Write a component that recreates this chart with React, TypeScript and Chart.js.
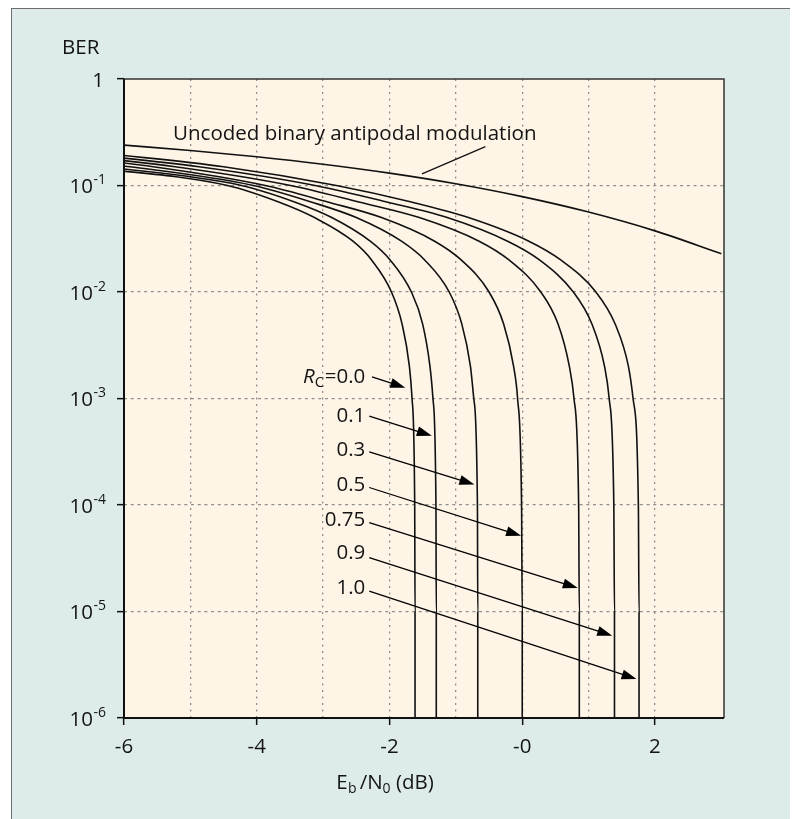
import React, { useEffect, useRef } from 'react';
import { Chart, registerables } from 'chart.js';

Chart.register(...registerables);

const FONT = '"Open Sans", "Noto Sans", sans-serif';
const TEXT = '#141414';
const PLOT_BG = '#fef5e7';
const OUTER_BG = '#ddecea';
const GRID = '#8f8f8f';
const FS = 20.5;
const FS_SMALL = 14;

// Uncoded binary antipodal modulation
const uncodedEbN0 = [-6, -5, -4, -3, -2, -1, 0, 1, 2, 3];
const uncodedBer = [0.2392, 0.2132, 0.1861, 0.1584, 0.1306, 0.1038, 0.0786, 0.0563, 0.0375, 0.0229];

// Coded bounds: Eb/N0 (dB) at which each curve reaches the BER level
const berLevels = [0.2, 0.15, 0.1, 0.07, 0.05, 0.03, 0.02, 0.01, 0.005, 0.002, 0.001, 1e-4, 1e-5, 1e-6, 1e-7];
const ebn0Rc000 = [-8.45, -6.66, -4.44, -3.67, -3.13, -2.55, -2.27, -1.97, -1.81, -1.70, -1.66, -1.62, -1.615, -1.615, -1.615];
const ebn0Rc010 = [-8.09, -6.30, -4.23, -3.43, -2.87, -2.29, -1.99, -1.67, -1.50, -1.39, -1.345, -1.30, -1.295, -1.295, -1.295];
const ebn0Rc030 = [-7.70, -5.91, -4.05, -3.18, -2.50, -1.82, -1.47, -1.10, -0.91, -0.78, -0.73, -0.675, -0.67, -0.67, -0.67];
const ebn0Rc050 = [-7.35, -5.56, -3.87, -2.93, -2.12, -1.32, -0.92, -0.50, -0.28, -0.13, -0.07, -0.01, 0.0, 0.0, 0.0];
const ebn0Rc075 = [-7.02, -5.23, -3.49, -2.46, -1.55, -0.65, -0.20, 0.28, 0.54, 0.71, 0.78, 0.85, 0.86, 0.86, 0.86];
const ebn0Rc090 = [-6.66, -4.87, -3.12, -2.04, -1.13, -0.22, 0.26, 0.77, 1.05, 1.24, 1.31, 1.38, 1.39, 1.39, 1.39];
const ebn0Rc100 = [-6.29, -4.50, -2.80, -1.67, -0.81, 0.10, 0.58, 1.11, 1.40, 1.60, 1.67, 1.75, 1.76, 1.76, 1.76];
const codedCurves = [ebn0Rc000, ebn0Rc010, ebn0Rc030, ebn0Rc050, ebn0Rc075, ebn0Rc090, ebn0Rc100];

// Axes
const xTickValues = [-6, -5, -4, -3, -2, -1, 0, 1, 2, 3];
const xTickLabels = ['-6', '', '-4', '', '-2', '', '-0', '', '2', ''];
const yTickValues = [1, 1e-1, 1e-2, 1e-3, 1e-4, 1e-5, 1e-6];
const yTickExponents = ['', '-1', '-2', '-3', '-4', '-5', '-6'];

// Annotations (data coordinates)
const uncodedLabel = 'Uncoded binary antipodal modulation';
const uncodedLabelPos = [-2.523, 0.266];
const uncodedLeader = [-0.555, 0.232, -1.51, 0.1285];

const rateLabels = ['0.0', '0.1', '0.3', '0.5', '0.75', '0.9', '1.0'];
const rateLabelX = -2.365;
const rateLabelBer = [1.41e-3, 5.96e-4, 2.9e-4, 1.355e-4, 6.37e-5, 3.1e-5, 1.47e-5];
const arrowFromX = [-2.264, -2.305, -2.305, -2.305, -2.305, -2.305, -2.305];
const arrowFromBer = [1.6e-3, 6.84e-4, 3.16e-4, 1.46e-4, 6.84e-5, 3.21e-5, 1.55e-5];
const arrowToX = [-1.762, -1.362, -0.721, -0.017, 0.837, 1.356, 1.722];
const arrowToBer = [1.26e-3, 4.47e-4, 1.56e-4, 5.13e-5, 1.66e-5, 5.93e-6, 2.32e-6];

function drawArrow(ctx: CanvasRenderingContext2D, x1: number, y1: number, x2: number, y2: number) {
  const ang = Math.atan2(y2 - y1, x2 - x1);
  const L = 15;
  const W = 5;
  const bx = x2 - L * Math.cos(ang);
  const by = y2 - L * Math.sin(ang);
  ctx.beginPath();
  ctx.moveTo(x1, y1);
  ctx.lineTo(bx + 1, by + 0.3);
  ctx.stroke();
  ctx.beginPath();
  ctx.moveTo(x2, y2);
  ctx.lineTo(bx + W * Math.sin(ang), by - W * Math.cos(ang));
  ctx.lineTo(bx - W * Math.sin(ang), by + W * Math.cos(ang));
  ctx.closePath();
  ctx.fill();
}

const decorPlugin = {
  id: 'berDecor',
  beforeDraw(chart: any) {
    const { ctx, chartArea: a } = chart;
    ctx.save();
    ctx.fillStyle = PLOT_BG;
    ctx.fillRect(a.left, a.top, a.right - a.left, a.bottom - a.top);
    ctx.restore();
  },
  afterDraw(chart: any) {
    const { ctx, chartArea: a, scales } = chart;
    const xs = scales.x;
    const ys = scales.y;
    ctx.save();

    // frame
    ctx.strokeStyle = '#333';
    ctx.lineWidth = 1.5;
    ctx.beginPath();
    ctx.moveTo(a.left, a.top);
    ctx.lineTo(a.right, a.top);
    ctx.lineTo(a.right, a.bottom);
    ctx.stroke();
    ctx.strokeStyle = '#111';
    ctx.lineWidth = 2;
    ctx.beginPath();
    ctx.moveTo(a.left, a.top);
    ctx.lineTo(a.left, a.bottom);
    ctx.lineTo(a.right, a.bottom);
    ctx.stroke();

    ctx.fillStyle = TEXT;
    ctx.textBaseline = 'alphabetic';

    // y tick labels
    yTickValues.forEach((v, i) => {
      const py = ys.getPixelForValue(v);
      const exp = yTickExponents[i];
      const right = a.left - 18;
      ctx.textAlign = 'right';
      if (!exp) {
        ctx.font = `${FS}px ${FONT}`;
        ctx.fillText('1', right - 2, py + 7.5);
      } else {
        ctx.font = `${FS_SMALL}px ${FONT}`;
        const w = ctx.measureText(exp).width;
        ctx.fillText(exp, right, py - 1.5);
        ctx.font = `${FS}px ${FONT}`;
        ctx.fillText('10', right - w - 0.5, py + 7.5);
      }
    });

    // x tick labels
    ctx.font = `${FS}px ${FONT}`;
    ctx.textAlign = 'center';
    xTickValues.forEach((v, i) => {
      const lab = xTickLabels[i];
      if (!lab) return;
      ctx.fillText(lab, xs.getPixelForValue(v), a.bottom + 35);
    });

    // y title
    ctx.textAlign = 'left';
    ctx.fillText('BER', a.left - 62, a.top - 25);

    // x title E_b /N_0 (dB)
    const parts = [
      { t: 'E', f: FS, dy: 0, gap: 0 },
      { t: 'b', f: FS_SMALL, dy: 4, gap: 0.5 },
      { t: '/N', f: FS, dy: 0, gap: 3 },
      { t: '0', f: FS_SMALL, dy: 4, gap: 0 },
      { t: ' (dB)', f: FS, dy: 0, gap: 0 },
    ];
    let total = 0;
    parts.forEach((p) => {
      ctx.font = `${p.f}px ${FONT}`;
      total += p.gap + ctx.measureText(p.t).width;
    });
    let cx = a.left + 261 - total / 2;
    const by = a.bottom + 71;
    ctx.textAlign = 'left';
    parts.forEach((p) => {
      ctx.font = `${p.f}px ${FONT}`;
      cx += p.gap;
      ctx.fillText(p.t, cx, by + p.dy);
      cx += ctx.measureText(p.t).width;
    });

    // uncoded label + leader
    ctx.font = `${FS}px ${FONT}`;
    ctx.textAlign = 'center';
    ctx.fillText(uncodedLabel, xs.getPixelForValue(uncodedLabelPos[0]), ys.getPixelForValue(uncodedLabelPos[1]));
    ctx.strokeStyle = '#111';
    ctx.lineWidth = 1.3;
    ctx.beginPath();
    ctx.moveTo(xs.getPixelForValue(uncodedLeader[0]), ys.getPixelForValue(uncodedLeader[1]));
    ctx.lineTo(xs.getPixelForValue(uncodedLeader[2]), ys.getPixelForValue(uncodedLeader[3]));
    ctx.stroke();

    // rate labels and arrows
    const rx = xs.getPixelForValue(rateLabelX);
    rateLabels.forEach((lab, i) => {
      const py = ys.getPixelForValue(rateLabelBer[i]);
      ctx.textAlign = 'right';
      ctx.font = `${FS}px ${FONT}`;
      if (i === 0) {
        const tail = '=' + lab;
        const wTail = ctx.measureText(tail).width;
        ctx.fillText(tail, rx, py);
        ctx.font = `15px ${FONT}`;
        const wC = ctx.measureText('C').width;
        ctx.fillText('C', rx - wTail - 0.5, py + 4.5);
        ctx.font = `italic ${FS}px ${FONT}`;
        ctx.fillText('R', rx - wTail - wC - 0.5, py);
      } else {
        ctx.fillText(lab, rx, py);
      }
      ctx.fillStyle = '#000';
      ctx.strokeStyle = '#000';
      ctx.lineWidth = 1.3;
      drawArrow(
        ctx,
        xs.getPixelForValue(arrowFromX[i]),
        ys.getPixelForValue(arrowFromBer[i]),
        xs.getPixelForValue(arrowToX[i]),
        ys.getPixelForValue(arrowToBer[i])
      );
      ctx.fillStyle = TEXT;
    });

    ctx.restore();
  },
};

export default function App() {
  const canvasRef = useRef<HTMLCanvasElement | null>(null);

  useEffect(() => {
    document.documentElement.style.overflow = 'hidden';
    document.body.style.overflow = 'hidden';
    const canvas = canvasRef.current;
    if (!canvas) return;

    const datasets: any[] = [
      {
        label: 'Uncoded',
        data: uncodedEbN0.map((x, i) => ({ x, y: uncodedBer[i] })),
      },
      ...codedCurves.map((xsArr, k) => ({
        label: 'Rc=' + rateLabels[k],
        data: xsArr.map((x, i) => ({ x, y: berLevels[i] })),
      })),
    ];

    const chart = new Chart(canvas, {
      type: 'line',
      data: { datasets },
      options: {
        animation: false,
        responsive: false,
        maintainAspectRatio: false,
        devicePixelRatio: 1,
        layout: { padding: { top: 70, right: 71, left: 0, bottom: 0 } },
        plugins: { legend: { display: false }, tooltip: { enabled: false } },
        elements: {
          point: { radius: 0, hoverRadius: 0 },
          line: { borderWidth: 1.6, borderColor: '#111', cubicInterpolationMode: 'monotone', fill: false },
        },
        scales: {
          x: {
            type: 'linear',
            min: -6,
            max: 3.04,
            afterBuildTicks: (s: any) => {
              s.ticks = xTickValues.map((v) => ({ value: v }));
            },
            afterFit: (s: any) => {
              s.height = 101;
            },
            ticks: { display: false },
            grid: {
              color: (c: any) => (c.tick && (c.tick.value === 3 || c.tick.value === -6) ? 'rgba(0,0,0,0)' : GRID),
              lineWidth: 1.3,
              drawTicks: true,
              tickLength: 7,
              tickWidth: 1.5,
              tickColor: (c: any) => (c.tick && c.tick.value % 2 === 0 ? '#111' : 'rgba(0,0,0,0)'),
              tickBorderDash: [],
              borderDash: [2, 4.5],
            },
            border: { display: false, dash: [2, 4.5] },
          },
          y: {
            type: 'logarithmic',
            min: 1e-6,
            max: 1,
            afterBuildTicks: (s: any) => {
              s.ticks = yTickValues.map((v) => ({ value: v }));
            },
            afterFit: (s: any) => {
              s.width = 112;
            },
            ticks: { display: false },
            grid: {
              color: (c: any) => (c.tick && (c.tick.value === 1 || c.tick.value === 1e-6) ? 'rgba(0,0,0,0)' : GRID),
              lineWidth: 1.3,
              drawTicks: true,
              tickLength: 7,
              tickWidth: 1.5,
              tickColor: '#111',
              tickBorderDash: [],
              borderDash: [3, 3.7],
            },
            border: { display: false, dash: [3, 3.7] },
          },
        },
      } as any,
      plugins: [decorPlugin as any],
    });

    return () => {
      chart.destroy();
    };
  }, []);

  return (
    <div
      style={{
        marginLeft: 3,
        width: 783,
        height: 820,
        border: '1px solid #6e6e6e',
        background: OUTER_BG,
        overflow: 'hidden',
      }}
    >
      <canvas ref={canvasRef} width={783} height={810} style={{ display: 'block', width: 783, height: 810 }} />
    </div>
  );
}
